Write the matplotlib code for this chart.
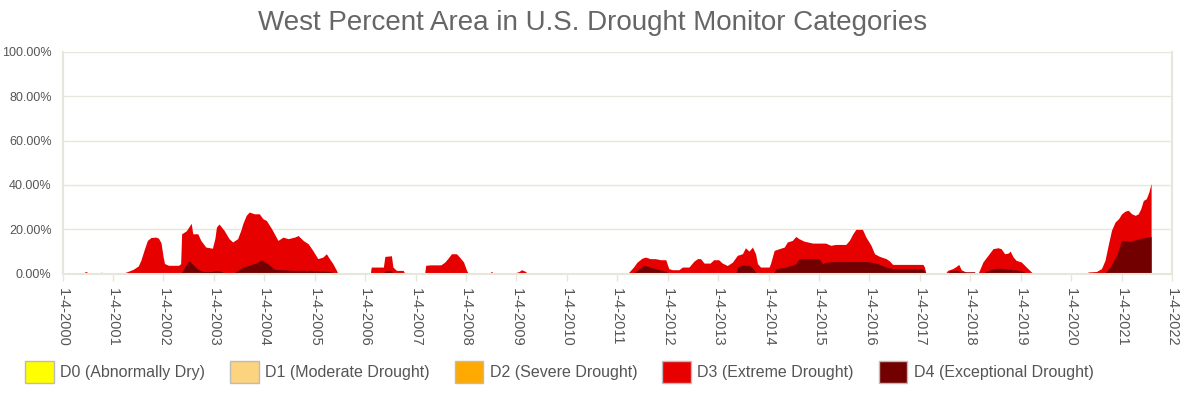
import matplotlib
matplotlib.use("Agg")
import matplotlib.pyplot as plt
from matplotlib.patches import Patch
import numpy as np

plt.rcParams['font.family'] = ['Liberation Sans', 'DejaVu Sans']

# decimal years (integer = Jan 4 of that year), percent of area in D3 or worse
d3_years = [2000.00, 2000.42, 2000.44, 2000.48, 2000.50, 2000.73, 2000.75, 2000.79, 2000.81,
            2001.00, 2001.20, 2001.29, 2001.40, 2001.50, 2001.55, 2001.62, 2001.68, 2001.75,
            2001.85, 2001.90, 2001.95, 2001.99, 2002.02, 2002.10, 2002.30, 2002.34, 2002.36,
            2002.45, 2002.50, 2002.55, 2002.58, 2002.68, 2002.74, 2002.84, 2002.97, 2003.02,
            2003.05, 2003.10, 2003.20, 2003.30, 2003.37, 2003.47, 2003.54, 2003.57, 2003.64,
            2003.70, 2003.80, 2003.90, 2003.97, 2004.04, 2004.14, 2004.27, 2004.37, 2004.47,
            2004.60, 2004.67, 2004.77, 2004.87, 2004.96, 2005.06, 2005.16, 2005.23, 2005.29,
            2005.36, 2005.43, 2005.46, 2005.75, 2005.79, 2005.83, 2005.86, 2006.10, 2006.12,
            2006.36, 2006.39, 2006.52, 2006.55, 2006.62, 2006.75, 2006.78, 2007.18, 2007.20,
            2007.30, 2007.50, 2007.58, 2007.65, 2007.71, 2007.81, 2007.87, 2007.95, 2008.01,
            2008.05, 2008.45, 2008.50, 2008.55, 2008.95, 2009.05, 2009.10, 2009.18, 2009.22,
            2009.90, 2009.94, 2010.10, 2010.15, 2011.15, 2011.22, 2011.32, 2011.39, 2011.49,
            2011.56, 2011.65, 2011.75, 2011.86, 2011.96, 2012.02, 2012.09, 2012.22, 2012.29,
            2012.42, 2012.52, 2012.59, 2012.65, 2012.72, 2012.84, 2012.91, 2013.01, 2013.08,
            2013.18, 2013.28, 2013.38, 2013.48, 2013.54, 2013.61, 2013.68, 2013.74, 2013.78,
            2013.84, 2014.01, 2014.04, 2014.11, 2014.21, 2014.31, 2014.37, 2014.47, 2014.54,
            2014.60, 2014.70, 2014.87, 2015.13, 2015.23, 2015.33, 2015.53, 2015.60, 2015.67,
            2015.73, 2015.86, 2015.93, 2016.03, 2016.10, 2016.20, 2016.33, 2016.40, 2016.46,
            2017.06, 2017.09, 2017.12, 2017.50, 2017.55, 2017.65, 2017.72, 2017.77, 2017.82,
            2017.91, 2018.08, 2018.12, 2018.15, 2018.18, 2018.25, 2018.35, 2018.45, 2018.55,
            2018.61, 2018.68, 2018.75, 2018.79, 2018.85, 2018.91, 2019.01, 2019.11, 2019.21,
            2019.25, 2019.42, 2019.44, 2019.77, 2019.80, 2020.30, 2020.34, 2020.50, 2020.60,
            2020.67, 2020.74, 2020.80, 2020.87, 2020.94, 2021.00, 2021.07, 2021.13, 2021.20,
            2021.27, 2021.33, 2021.38, 2021.43, 2021.49, 2021.54, 2021.58, 2021.585]
d3_vals = [0, 0, 0.9, 0.9, 0, 0, 0.6, 0.6, 0,
           0.2, 0.3, 1.0, 2.0, 3.5, 6.0, 11.0, 15.0, 16.3,
           16.5, 16.0, 14.0, 8.0, 4.6, 3.8, 3.8, 4.5, 18.0,
           19.3, 21.0, 22.7, 18.0, 18.0, 15.0, 12.0, 11.5, 16.0,
           21.0, 22.4, 19.6, 15.8, 14.3, 15.8, 20.0, 22.4, 26.3,
           27.8, 27.0, 27.0, 24.8, 24.0, 20.4, 15.0, 16.5, 15.8,
           16.5, 17.2, 15.0, 13.5, 10.5, 6.8, 7.5, 9.0, 6.8,
           4.5, 1.5, 0, 0, 0.5, 0.5, 0, 0, 3.0,
           3.0, 7.8, 8.1, 3.0, 1.5, 1.5, 0.4, 0.4, 3.8,
           4.0, 4.0, 5.3, 7.2, 9.0, 9.0, 7.5, 5.3, 1.5,
           0, 0, 1.0, 0.3, 0.3, 1.0, 1.8, 1.0, 0,
           0, 0.5, 0.5, 0.2, 0.2, 0.5, 3.0, 5.2, 7.0,
           7.5, 6.8, 6.8, 6.3, 6.3, 2.3, 1.8, 1.8, 3.0,
           3.0, 5.7, 6.8, 6.8, 4.8, 4.8, 6.3, 6.3, 4.8,
           3.7, 5.2, 8.3, 9.0, 11.7, 10.2, 12.0, 9.0, 4.5,
           3.0, 3.0, 4.8, 10.5, 11.3, 12.0, 14.3, 15.0, 16.8,
           15.8, 14.7, 13.8, 13.8, 12.8, 13.2, 13.2, 15.0, 18.0,
           20.0, 20.0, 16.5, 12.8, 9.0, 7.8, 6.8, 5.7, 4.2,
           4.2, 3.0, 0, 0, 1.5, 2.3, 3.3, 4.2, 1.8,
           0.8, 0.8, 0, 0, 1.5, 5.3, 8.3, 11.3, 11.7,
           11.3, 9.0, 9.3, 10.2, 7.5, 6.0, 5.3, 3.0, 0.8,
           0, 0, 0.4, 0.4, 0.2, 0.2, 0.8, 1.0, 2.3,
           6.0, 13.5, 19.6, 23.3, 24.8, 27.0, 28.2, 28.6, 27.0,
           26.3, 27.0, 29.3, 33.0, 33.8, 36.8, 40.3, 40.5]

# percent of area in D4
d4_years = [2000.00, 2002.34, 2002.38, 2002.45, 2002.50, 2002.57, 2002.68, 2002.80, 2002.95,
            2003.05, 2003.15, 2003.20, 2003.40, 2003.47, 2003.57, 2003.70, 2003.85, 2003.94,
            2004.07, 2004.20, 2004.60, 2005.00, 2005.29, 2005.40, 2005.46, 2006.35, 2006.40,
            2006.50, 2006.55, 2006.60, 2011.30, 2011.39, 2011.52, 2011.62, 2011.75, 2011.96,
            2012.02, 2013.35, 2013.38, 2013.45, 2013.61, 2013.68, 2013.74, 2013.80, 2014.10,
            2014.14, 2014.34, 2014.54, 2014.60, 2015.00, 2015.07, 2015.13, 2015.33, 2015.93,
            2016.13, 2016.33, 2016.46, 2017.06, 2017.10, 2017.12, 2017.55, 2017.60, 2017.75,
            2017.80, 2018.08, 2018.12, 2018.25, 2018.30, 2018.45, 2018.58, 2018.78, 2018.98,
            2019.10, 2019.15, 2020.65, 2020.77, 2020.90, 2021.00, 2021.16, 2021.29, 2021.43,
            2021.58, 2021.585]
d4_vals = [0, 0, 1.5, 4.0, 6.0, 4.5, 2.0, 1.0, 1.0,
           1.5, 1.0, 0.5, 0.5, 1.5, 3.0, 3.8, 5.0, 6.3,
           4.5, 2.0, 1.5, 1.5, 1.0, 0.3, 0, 0, 1.5,
           1.5, 0.5, 0, 0, 1.5, 3.8, 3.3, 2.3, 1.2,
           0.3, 0.3, 3.0, 3.8, 3.8, 2.7, 0.8, 0.3, 0.3,
           2.3, 3.0, 4.5, 6.8, 6.8, 4.5, 5.2, 5.5, 5.5,
           4.8, 3.0, 2.3, 2.3, 1.0, 0, 0, 1.5, 1.5,
           0.8, 0.8, 0, 0, 1.0, 2.3, 2.5, 2.0, 1.5,
           0.5, 0, 0, 3.0, 8.3, 15.0, 14.7, 15.3, 16.2,
           16.8, 16.8]

tick_years = list(range(2000, 2023))
tick_labels = ["1-4-%d" % y for y in tick_years]

legend_names = ["D0 (Abnormally Dry)", "D1 (Moderate Drought)", "D2 (Severe Drought)",
                "D3 (Extreme Drought)", "D4 (Exceptional Drought)"]
legend_colors = ["#FFFF00", "#FCD37F", "#FFAA00", "#E60000", "#730000"]

grid_col = "#e6e6da"
text_col = "#555555"

fig = plt.figure(figsize=(12, 4.11), dpi=100)
ax = fig.add_axes([0.0522, 0.334, 0.9245, 0.54])

ax.fill_between(d3_years, d3_vals, 0, color=legend_colors[3], linewidth=0)
ax.fill_between(d4_years, d4_vals, 0, color=legend_colors[4], linewidth=0)

ax.set_xlim(2000, 2022)
ax.set_ylim(0, 100)
ax.set_yticks([0, 20, 40, 60, 80, 100])
ax.set_yticklabels(["%.2f%%" % v for v in [0, 20, 40, 60, 80, 100]], fontsize=9, color=text_col)
ax.set_xticks(tick_years)
ax.set_xticklabels(tick_labels, rotation=-90, fontsize=10.5, color=text_col)
ax.tick_params(axis='y', length=0, pad=8)
ax.tick_params(axis='x', length=5, color=grid_col, width=1, pad=5)
ax.grid(axis='y', color=grid_col, linewidth=1)
ax.set_axisbelow(True)
for s in ax.spines.values():
    s.set_color(grid_col)
    s.set_linewidth(1.5)
ax.spines['top'].set_visible(False)

fig.text(0.494, 0.945, "West Percent Area in U.S. Drought Monitor Categories",
         ha='center', va='center', fontsize=20, color="#666666")

handles = [Patch(facecolor=c, edgecolor="#bbbbbb", linewidth=1) for c in legend_colors]
fig.legend(handles, legend_names, loc='center left', bbox_to_anchor=(0.009, 0.095),
           ncol=5, frameon=False, fontsize=11.5, handlelength=1.8, handleheight=1.8,
           handletextpad=0.4, columnspacing=1.55, labelcolor=text_col)

fig.savefig("out.png", dpi=100)
